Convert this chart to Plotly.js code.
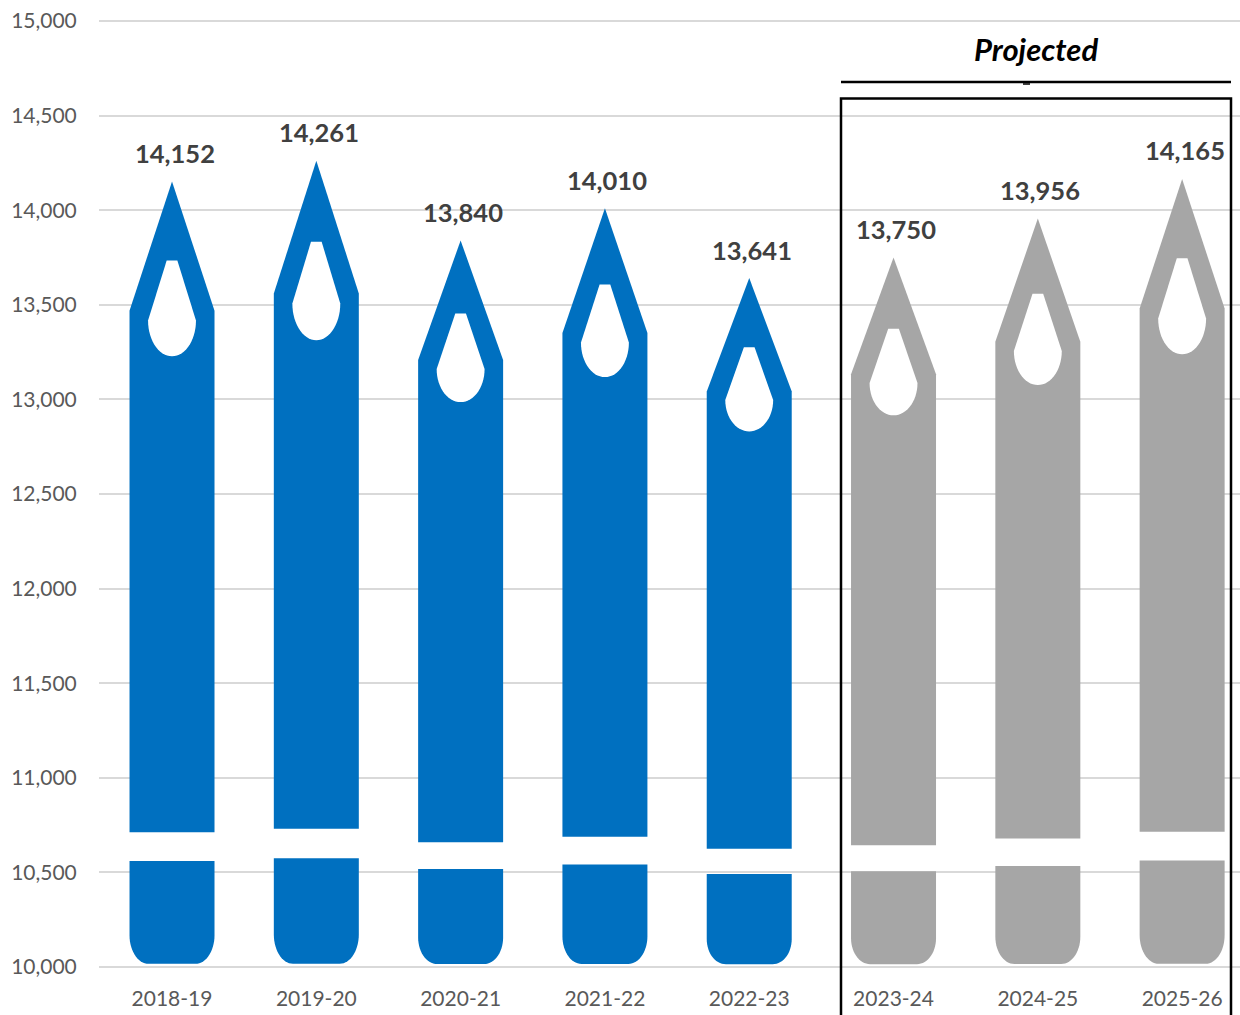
<!DOCTYPE html>
<html>
<head>
<meta charset="utf-8">
<script src="https://cdn.plot.ly/plotly-3.0.1.min.js"></script>
<style>html,body{margin:0;padding:0;background:#fff;overflow:hidden}#chart{width:1240px;height:1015px}</style>
</head>
<body>
<div id="chart"></div>
<script>
// School-year totals, drawn as pencil-shaped columns
const years = ['2018-19','2019-20','2020-21','2021-22','2022-23','2023-24','2024-25','2025-26'];
const actualValues = [14152, 14261, 13840, 14010, 13641];
const projectedValues = [13750, 13956, 14165];
const yTicks = [10000,10500,11000,11500,12000,12500,13000,13500,14000,14500,15000];

const BLUE = '#0070C0', GREY = '#A6A6A6';
const BASE = 10000;
const HALF = 0.2945;          // half a pencil's width, in category units

// Quarter-ellipse helper for the rounded foot and the teardrop cut-out.
// Points are [x offset, height fraction].
function arc(cx, cy, rx, ry, fromDeg, toDeg) {
  const pts = [];
  for (let d = fromDeg; (toDeg > fromDeg) ? d <= toDeg : d >= toDeg; d += (toDeg > fromDeg ? 6 : -6)) {
    const a = d * Math.PI / 180;
    pts.push([cx + rx * Math.cos(a), cy + ry * Math.sin(a)]);
  }
  return pts;
}

// Every outline scales with the column's height, fraction 1 being the tip.
const upperOutline = [
  [-HALF, 0.1716], [-HALF, 0.8355], [0, 1], [HALF, 0.8355], [HALF, 0.1716]
];
const lowerOutline = [
  [-HALF, 0.135],
  ...arc(-0.162, 0.0405, HALF - 0.162, 0.0365, 180, 270),
  ...arc(0.162, 0.0405, HALF - 0.162, 0.0365, 270, 360),
  [HALF, 0.135]
];
const holeOutline = [
  [-0.037, 0.8995], [0.037, 0.8995], [0.166, 0.823],
  ...arc(0, 0.823, 0.166, 0.0455, 360, 180),
  [-0.166, 0.823]
];

function place(outline, index, value) {
  return {
    x: outline.map(p => index + p[0]),
    y: outline.map(p => BASE + p[1] * (value - BASE))
  };
}

function closed(pts) { return pts.concat([pts[0]]); }

function pencilTraces(index, value, color) {
  const up = place(closed(upperOutline), index, value);
  const low = place(closed(lowerOutline), index, value);
  const hole = place(closed(holeOutline), index, value);
  const common = { type: 'scatter', mode: 'lines', fill: 'toself',
                   line: { width: 0, simplify: false },
                   hoverinfo: 'skip', showlegend: false };
  return [
    Object.assign({}, common, { x: up.x, y: up.y, fillcolor: color }),
    Object.assign({}, common, { x: low.x, y: low.y, fillcolor: color }),
    Object.assign({}, common, { x: hole.x, y: hole.y, fillcolor: '#FFFFFF' })
  ];
}

const traces = [];
actualValues.forEach((v, i) => traces.push(...pencilTraces(i, v, BLUE)));
projectedValues.forEach((v, i) => traces.push(...pencilTraces(i + actualValues.length, v, GREY)));

const allValues = actualValues.concat(projectedValues);
const valueLabels = allValues.map((v, i) => ({
  x: i, y: v, xref: 'x', yref: 'y', yshift: 28.5, xshift: 2.5, xanchor: 'center',
  text: v.toLocaleString('en-US'), showarrow: false, yanchor: 'middle',
  font: { family: 'Lato', size: 25.5, color: '#404040', weight: 700 }
}));

const PLOT_W = 1141, PLOT_H = 950;
const px = v => (v - 99) / PLOT_W;
const py = v => (969 - v) / PLOT_H;

const layout = {
  width: 1240, height: 1015,
  margin: { l: 99, r: 0, t: 19, b: 46, pad: 0 },
  paper_bgcolor: '#FFFFFF', plot_bgcolor: '#FFFFFF',
  showlegend: false,
  font: { family: 'Lato' },
  xaxis: {
    range: [-0.506, 7.401], showgrid: false, zeroline: false, showline: false,
    tickmode: 'array', tickvals: years.map((_, i) => i), ticktext: years,
    ticks: 'outside', ticklen: 11, tickcolor: 'rgba(0,0,0,0)',
    tickfont: { family: 'Lato', size: 21, color: '#595959' }
  },
  yaxis: {
    // a couple of pixels of slack keeps the first and last gridlines drawn
    range: [9989.43, 15010.57], zeroline: false, showline: false,
    gridcolor: '#D9D9D9', gridwidth: 2,
    tickmode: 'array', tickvals: yTicks, tickformat: ',d',
    ticks: 'outside', ticklen: 17, tickcolor: 'rgba(0,0,0,0)',
    tickfont: { family: 'Lato', size: 21, color: '#595959' }
  },
  shapes: [
    // Frame round the projected years; its foot runs off the page
    { type: 'path', xref: 'paper', yref: 'paper', layer: 'above',
      path: `M ${px(841)} ${py(1030)} L ${px(841)} ${py(98.5)} L ${px(1231)} ${py(98.5)} L ${px(1231)} ${py(1030)}`,
      line: { color: '#000000', width: 2.5 } },
    { type: 'line', xref: 'paper', yref: 'paper', layer: 'above',
      x0: px(841), x1: px(1231), y0: py(82), y1: py(82), line: { color: '#000000', width: 2.5 } },
    { type: 'line', xref: 'paper', yref: 'paper', layer: 'above',
      x0: px(1023), x1: px(1030), y0: py(84), y1: py(84), line: { color: '#000000', width: 1.5 } }
  ],
  annotations: valueLabels.concat([{
    xref: 'paper', yref: 'paper', x: px(1035.5), y: py(49), showarrow: false,
    text: '<b><i>Projected</i></b>', xanchor: 'center', yanchor: 'middle',
    font: { family: 'Lato', size: 31, color: '#000000' }
  }])
};

Plotly.newPlot('chart', traces, layout, { displayModeBar: false, staticPlot: true });
</script>
</body>
</html>
